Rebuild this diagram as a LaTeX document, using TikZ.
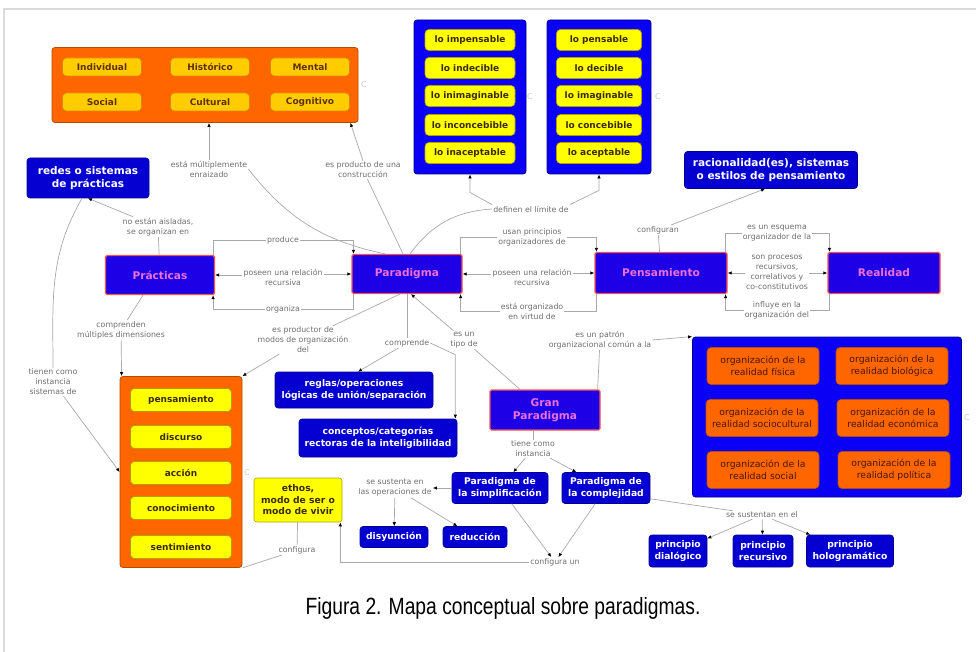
\documentclass[tikz,border=0pt]{standalone}
\usepackage{fontspec}
\setmainfont{DejaVu Sans}
\newfontfamily\capfont[FakeStretch=0.82]{Liberation Sans}
\usetikzlibrary{arrows.meta}

\definecolor{cmorange}{HTML}{FF6600}
\definecolor{cmorangeedge}{HTML}{B84A00}
\definecolor{cmorangetext}{HTML}{4A1500}
\definecolor{cmgold}{HTML}{FFCC00}
\definecolor{cmgoldedge}{HTML}{D98A00}
\definecolor{cmgoldtext}{HTML}{5E3300}
\definecolor{cmyellow}{HTML}{FFFF00}
\definecolor{cmyellowedge}{HTML}{B3A000}
\definecolor{cmyellowtext}{HTML}{3A2C00}
\definecolor{cmblue}{HTML}{0A00F5}
\definecolor{cmblueedge}{HTML}{00008A}
\definecolor{cmnavy}{HTML}{0500D1}
\definecolor{cmconcept}{HTML}{1E00E6}
\definecolor{cmred}{HTML}{FF5050}
\definecolor{cmpink}{HTML}{EE6FD8}
\definecolor{cmlink}{HTML}{A8A8A8}
\definecolor{cmphrase}{HTML}{6E6E6E}
\definecolor{cmframe}{HTML}{DADADA}

\begin{document}
\begin{tikzpicture}
  [x=1pt,y=-1pt,
   >={Latex[length=4pt,width=3.5pt,color=black]},
   every node/.style={align=center,inner sep=1pt},
   link/.style={draw=cmlink,line width=0.7pt},
   phrase/.style={text=cmphrase,font=\fontsize{7.8}{10}\selectfont},
   cmark/.style={text=gray!45,font=\fontsize{8}{8}\selectfont},
   concept/.style={fill=cmconcept,draw=cmred,line width=1.2pt,text=cmpink,
     rounded corners=1.5pt,font=\bfseries\fontsize{10.6}{13}\selectfont},
   bluebox/.style={fill=cmnavy,draw=cmblueedge,line width=0.6pt,text=white,
     rounded corners=3pt,font=\bfseries\fontsize{9.2}{11.5}\selectfont},
   bigblue/.style={bluebox,font=\bfseries\fontsize{10.5}{13}\selectfont},
   orangecont/.style={fill=cmorange,draw=cmorangeedge,line width=0.8pt,rounded corners=3pt},
   bluecont/.style={fill=cmblue,draw=cmblueedge,line width=0.8pt,rounded corners=3pt},
   golditem/.style={fill=cmgold,draw=cmgoldedge,line width=0.6pt,text=cmgoldtext,
     rounded corners=4pt,minimum height=18,font=\bfseries\fontsize{9}{11}\selectfont},
   yellowitem/.style={fill=cmyellow,draw=cmyellowedge,line width=0.6pt,text=cmyellowtext,
     rounded corners=4pt,minimum height=21,font=\bfseries\fontsize{9}{11}\selectfont},
   orangeitem/.style={fill=cmorange,draw=cmorangeedge,line width=0.6pt,text=cmorangetext,
     rounded corners=4pt,minimum height=37,font=\fontsize{9.3}{12}\selectfont}]

  \useasboundingbox (0,0) rectangle (976,652);
  \draw[cmframe,line width=1.2pt] (4,652) -- (4,9) -- (976,9);

  % dimensiones (arriba a la izquierda)
  \node[orangecont,minimum width=306,minimum height=75] (dims) at (205,85) {};
  \foreach \name/\x/\y/\txt in {ind/102/67/Individual,hist/210/67/Histórico,ment/310/67/Mental,
                                soc/102/102/Social,cult/210/102/Cultural,cog/310/102/Cognitivo}
    \node[golditem,minimum width=79] (\name) at (\x,\y) {\txt};
  \node[cmark] (cdims) at (364,85) {C};

  % lo impensable / lo pensable
  \node[bluecont,minimum width=112,minimum height=154] (nolo) at (470,97) {};
  \node[bluecont,minimum width=104,minimum height=154] (silo) at (599,97) {};
  \foreach \y/\neg/\pos [count=\i] in {40/impensable/pensable,68/indecible/decible,
      96/inimaginable/imaginable,125/inconcebible/concebible,153/inaceptable/aceptable}{
    \node[yellowitem,minimum width=90] (no\i) at (470,\y) {lo \neg};
    \node[yellowitem,minimum width=85] (si\i) at (599,\y) {lo \pos};
  }
  \node[cmark] (cnolo) at (530,97) {C};
  \node[cmark] (csilo) at (658,97) {C};

  % conceptos principales
  \node[concept,minimum width=109,minimum height=39] (prac) at (160,275) {Prácticas};
  \node[concept,minimum width=110,minimum height=39] (para) at (407,274) {Paradigma};
  \node[concept,minimum width=132,minimum height=41] (pens) at (661,273) {Pensamiento};
  \node[concept,minimum width=112,minimum height=41] (real) at (884,273) {Realidad};
  \node[concept,minimum width=110,minimum height=40] (gran) at (545,410) {Gran\\Paradigma};

  \node[bigblue,minimum width=122,minimum height=40] (redes) at (88,178) {redes o sistemas\\de prácticas};
  \node[bigblue,minimum width=173,minimum height=37] (raciona) at (771,170)
    {racionalidad(es), sistemas\\o estilos de pensamiento};
  \node[bluebox,minimum width=158,minimum height=36] (reglas) at (354,390)
    {reglas/operaciones\\lógicas de unión/separación};
  \node[bluebox,minimum width=158,minimum height=38] (concep) at (378,438)
    {conceptos/categorías\\rectoras de la inteligibilidad};
  \node[bluebox,minimum width=96,minimum height=31] (simpl) at (500,488) {Paradigma de\\la simplificación};
  \node[bluebox,minimum width=88,minimum height=31] (compl) at (606,488) {Paradigma de\\la complejidad};
  \node[bluebox,minimum width=68,minimum height=21] (disy) at (394,537) {disyunción};
  \node[bluebox,minimum width=64,minimum height=21] (reduc) at (475,537) {reducción};
  \node[bluebox,minimum width=58,minimum height=32] (dial) at (678,551) {principio\\dialógico};
  \node[bluebox,minimum width=60,minimum height=32] (recu) at (763,551) {principio\\recursivo};
  \node[bluebox,minimum width=87,minimum height=32] (holo) at (850,551) {principio\\hologramático};

  % dimensiones de las prácticas
  \node[orangecont,minimum width=122,minimum height=191] (dimens) at (181,472) {};
  \foreach \name/\y/\txt in {pen2/400/pensamiento,disc/437/discurso,acc/473/acción,
                             conoc/508/conocimiento,sent/547/sentimiento}
    \node[yellowitem,minimum width=101,minimum height=23] (\name) at (181,\y) {\txt};
  \node[cmark] (cdimens) at (247,473) {C};
  \node[yellowitem,minimum width=88,minimum height=44,rounded corners=3pt,
        font=\bfseries\fontsize{9.2}{11.5}\selectfont] (ethos) at (298,500) {ethos,\\modo de ser o\\modo de vivir};

  % organizaciones de la realidad
  \node[bluecont,minimum width=269,minimum height=160] (realidades) at (827,417) {};
  \foreach \name/\x/\y/\txt in {fis/763/366/física,bio/892/366/biológica,
                                socult/762/418/sociocultural,econ/893/418/económica,
                                soc2/763/470/social,pol/894/470/política}
    \node[orangeitem,minimum width=112] (\name) at (\x,\y) {organización de la\\realidad \txt};
  \node[cmark] (creal) at (967,418) {C};

  % frases de enlace
  \node[phrase] (enraiz) at (209,169) {está múltiplemente\\enraizado};
  \node[phrase] (construc) at (363,170) {es producto de una\\construcción};
  \node[phrase] (limite) at (531,209) {definen el límite de};
  \node[phrase] (noaisl) at (158,227) {no están aisladas,\\se organizan en};
  \node[phrase] (produce) at (283,240) {produce};
  \node[phrase] (recur1) at (283,277) {poseen una relación\\recursiva};
  \node[phrase] (organiza) at (283,309) {organiza};
  \node[phrase] (usan) at (532,237) {usan principios\\organizadores de};
  \node[phrase] (recur2) at (532,277) {poseen una relación\\recursiva};
  \node[phrase] (virtud) at (532,311) {está organizado\\en virtud de};
  \node[phrase] (esquema) at (777,233) {es un esquema\\organizador de la};
  \node[phrase] (procesos) at (777,272) {son procesos\\recursivos,\\correlativos y\\co-constitutivos};
  \node[phrase] (influye) at (777,310) {influye en la\\organización del};
  \node[phrase] (configuran) at (658,230) {configuran};
  \node[phrase] (productor) at (303,340) {es productor de\\modos de organización\\del};
  \node[phrase] (comprende) at (407,343) {comprende};
  \node[phrase] (tipo) at (464,340) {es un\\tipo de};
  \node[phrase] (patron) at (600,340) {es un patrón\\organizacional común a la};
  \node[phrase] (comprenden) at (121,330) {comprenden\\múltiples dimensiones};
  \node[phrase] (instancia1) at (53,382) {tienen como\\instancia\\sistemas de};
  \node[phrase] (instancia2) at (533,449) {tiene como\\instancia};
  \node[phrase] (sustenta) at (395,488) {se sustenta en\\las operaciones de};
  \node[phrase] (configun) at (555,562) {configura un};
  \node[phrase] (configura) at (297,550) {configura};
  \node[phrase] (sustentan) at (762,515) {se sustentan en el};

  % enlaces rectos
  \foreach \from/\to in {prac/noaisl,para/comprende,pens/configuran,configura/ethos}
    \draw[link] (\from) -- (\to);
  \foreach \from/\to in {instancia2/simpl,instancia2/compl,simpl/sustenta,sustenta/disy,
                         sustenta/reduc,simpl/configun,compl/configun,
                         sustentan/dial,sustentan/recu,sustentan/holo}
    \draw[link,->] (\from) -- (\to);

  % Paradigma hacia arriba
  \draw[link] ([xshift=-22pt]para.north) to[bend left=20] (enraiz.east);
  \draw[link,->] (enraiz.north) -- (enraiz.north |- dims.south);
  \draw[link] ([xshift=-4pt]para.north) -- (construc);
  \draw[link,->] (construc.north) -- ([xshift=-8pt]dims.south east);
  \draw[link] ([xshift=3pt]para.north) to[bend left=25] (limite.west);
  \draw[link,->] (limite.north west) -- ([yshift=-18pt]nolo.south) -- (nolo.south);
  \draw[link,->] (limite.north east) -- ([yshift=-16pt]silo.south) -- (silo.south);

  % Prácticas y redes
  \draw[link,->] (noaisl) -- (redes.south);
  \draw[link] ([xshift=-2pt]prac.north east) |- (produce.west);
  \draw[link,->] (produce.east) -| ([xshift=2pt]para.north west);
  \draw[link,<-] (prac.east) -- (prac.east -| recur1.west);
  \draw[link,->] (para.west -| recur1.east) -- (para.west);
  \draw[link] ([xshift=2pt]para.south west) |- (organiza.east);
  \draw[link,->] (organiza.west) -| ([xshift=-2pt]prac.south east);

  % Paradigma y Pensamiento
  \draw[link] ([xshift=-2pt]para.north east) |- (usan.west);
  \draw[link,->] (usan.east) -| ([xshift=2pt]pens.north west);
  \draw[link,<-] (para.east) -- (para.east -| recur2.west);
  \draw[link,->] (pens.west -| recur2.east) -- (pens.west);
  \draw[link] ([xshift=2pt]pens.south west) |- (virtud.east);
  \draw[link,->] (virtud.west) -| ([xshift=-2pt]para.south east);

  % Pensamiento y Realidad
  \draw[link] ([xshift=-2pt]pens.north east) |- (esquema.west);
  \draw[link,->] (esquema.east) -| ([xshift=2pt]real.north west);
  \draw[link,<-] (pens.east) -- (pens.east -| procesos.west);
  \draw[link,->] (real.west -| procesos.east) -- (real.west);
  \draw[link] ([xshift=2pt]real.south west) |- (influye.east);
  \draw[link,->] (influye.west) -| ([xshift=-2pt]pens.south east);
  \draw[link,->] (configuran) -- ([xshift=-6pt]raciona.south);

  % Paradigma hacia abajo
  \draw[link] ([xshift=-7pt]para.south) -- (productor);
  \draw[link,->] (productor) -- (dimens.north east);
  \draw[link,->] (comprende) -- ([xshift=4pt]reglas.north);
  \draw[link,->] (comprende.east) -- ([xshift=-2pt,yshift=64pt]concep.north east)
                 -- ([xshift=-2pt]concep.north east);
  \draw[link] ([xshift=-25pt]gran.north) -- (tipo);
  \draw[link,->] (tipo) -- ([xshift=4pt]para.south);
  \draw[link] ([xshift=-3pt]gran.north east) -- (patron);
  \draw[link,->] (patron.east) -- (realidades.north west);
  \draw[link] ([xshift=-12pt]gran.south) -- (instancia2);

  % dimensiones y ethos
  \draw[link] ([xshift=-17pt]prac.south) -- (comprenden);
  \draw[link,->] (comprenden) -- ([xshift=2pt]dimens.north west);
  \draw[link] ([xshift=-6pt]redes.south) to[out=240,in=90] (instancia1.north);
  \draw[link,->] (instancia1) -- (dimens.west);
  \draw[link] (dimens.south east) -- (configura);
  \draw[link,->] (configun.west) -| ([xshift=-2pt]ethos.south east);
  \draw[link] ([yshift=5pt]compl.south east) -- (sustentan);

  % pie de figura
  \node[font=\capfont\fontsize{23.5}{28}\selectfont] (caption) at (503,608)
    {Figura 2. Mapa conceptual sobre paradigmas.};
\end{tikzpicture}
\end{document}
